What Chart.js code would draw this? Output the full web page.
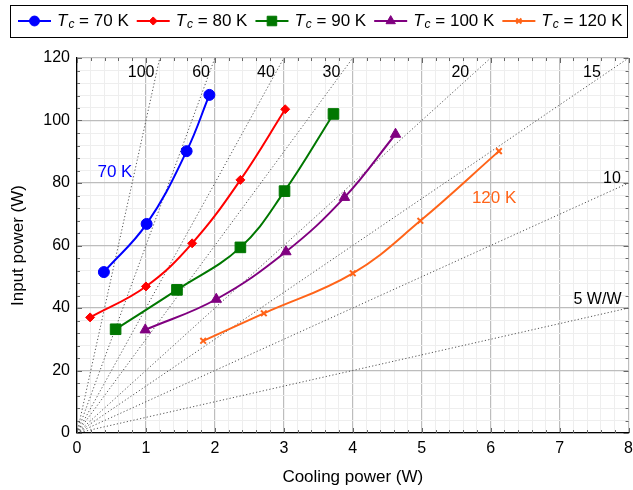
<!DOCTYPE html>
<html lang="en">
<head>
  <meta charset="UTF-8" />
  <title>Input power vs cooling power</title>
  <script src="https://cdn.jsdelivr.net/npm/chart.js"></script>
  <style>
    html, body { margin: 0; padding: 0; background: #fff; }
  </style>
</head>
<body>
  <canvas id="chart" width="633" height="490"></canvas>

  <script>
    // values (cooling power W, input power W)
    const tempNames = ['70 K', '80 K', '90 K', '100 K', '120 K'];
    const cool70 = [0.39, 1.01, 1.59, 1.92];
    const input70 = [51.5, 66.9, 90.2, 108.2];
    const cool80 = [0.19, 1.00, 1.67, 2.37, 3.02];
    const input80 = [37.0, 46.9, 60.7, 81.0, 103.6];
    const cool90 = [0.56, 1.45, 2.37, 3.01, 3.72];
    const input90 = [33.2, 45.8, 59.4, 77.4, 102.1];
    const cool100 = [0.99, 2.02, 3.03, 3.88, 4.62];
    const input100 = [33.0, 42.8, 58.0, 75.4, 95.6];
    const cool120 = [1.83, 2.71, 4.00, 4.98, 6.12];
    const input120 = [29.5, 38.3, 51.1, 67.9, 90.2];

    // constant specific power lines (W/W) and their labels
    const ratios = [5, 10, 15, 20, 30, 40, 60, 100];
    const ratioLabels = ['5 W/W', '10', '15', '20', '30', '40', '60', '100'];

    const xMax = 8, yMax = 120;

    const colors = ['#0000ff', '#ff0000', '#007700', '#800080', '#ff6419'];
    const markers = [
      { pointStyle: 'circle', radius: 5.5, borderWidth: 1 },
      { pointStyle: 'rectRot', radius: 4.5, borderWidth: 1 },
      { pointStyle: 'rect', radius: 7.5, borderWidth: 1 },
      { pointStyle: 'triangle', radius: 6, borderWidth: 1 },
      { pointStyle: 'crossRot', radius: 4, borderWidth: 2 }
    ];

    const coolSeries = [cool70, cool80, cool90, cool100, cool120];
    const inputSeries = [input70, input80, input90, input100, input120];

    const pairs = (xs, ys) => xs.map((x, i) => ({ x: x, y: ys[i] }));

    const curveSets = tempNames.map((name, i) => ({
      label: 'Tc = ' + name,
      data: pairs(coolSeries[i], inputSeries[i]),
      borderColor: colors[i],
      backgroundColor: colors[i],
      borderWidth: 2,
      tension: 0.4,
      pointStyle: markers[i].pointStyle,
      pointRadius: markers[i].radius,
      pointBorderWidth: markers[i].borderWidth,
      pointHoverRadius: markers[i].radius
    }));

    const ratioSets = ratios.map(r => {
      const xe = Math.min(xMax, yMax / r);
      return {
        label: r + ' W/W',
        data: [{ x: 0, y: 0 }, { x: xe, y: xe * r }],
        borderColor: '#555',
        borderWidth: 1,
        borderDash: [1.2, 2.2],
        pointRadius: 0,
        tension: 0
      };
    });

    // where the text labels sit, in data units
    const ratioLabelPos = [[7.55, 42.6], [7.76, 81.5], [7.47, 115.2], [5.56, 115.2],
                           [3.69, 115.2], [2.74, 115.2], [1.80, 115.2], [0.93, 115.2]];
    const curveLabelPos = { 0: [0.55, 83.5], 4: [6.05, 75] };

    const isMultiple = (v, step) => Math.abs(v / step - Math.round(v / step)) < 1e-6;

    const font = 'Liberation Sans, Arial, sans-serif';

    const innerTicks = {
      id: 'innerTicks',
      beforeDatasetsDraw(chart) {
        const { ctx, chartArea: a, scales } = chart;
        ctx.save();
        ctx.strokeStyle = '#666';
        ctx.lineWidth = 1;
        ctx.beginPath();
        for (let v = 0; v <= xMax + 1e-9; v += 0.2) {
          const px = Math.round(scales.x.getPixelForValue(v)) + 0.5;
          const len = isMultiple(v, 1) ? 5 : 3;
          ctx.moveTo(px, a.bottom); ctx.lineTo(px, a.bottom - len);
          ctx.moveTo(px, a.top); ctx.lineTo(px, a.top + len);
        }
        for (let v = 0; v <= yMax + 1e-9; v += 4) {
          const py = Math.round(scales.y.getPixelForValue(v)) + 0.5;
          const len = isMultiple(v, 20) ? 5 : 3;
          ctx.moveTo(a.left, py); ctx.lineTo(a.left + len, py);
          ctx.moveTo(a.right, py); ctx.lineTo(a.right - len, py);
        }
        ctx.stroke();
        ctx.restore();
      }
    };

    const textLabels = {
      id: 'textLabels',
      afterDatasetsDraw(chart) {
        const { ctx, scales } = chart;
        ctx.save();
        ctx.textBaseline = 'middle';
        ctx.fillStyle = '#000';
        ctx.font = '16px ' + font;
        ratioLabels.forEach((t, i) => {
          const p = ratioLabelPos[i];
          ctx.textAlign = 'center';
          ctx.fillText(t, scales.x.getPixelForValue(p[0]), scales.y.getPixelForValue(p[1]));
        });
        ctx.font = '17px ' + font;
        Object.keys(curveLabelPos).forEach(k => {
          const p = curveLabelPos[k];
          ctx.fillStyle = colors[k];
          ctx.textAlign = 'center';
          ctx.fillText(tempNames[k], scales.x.getPixelForValue(p[0]), scales.y.getPixelForValue(p[1]));
        });
        ctx.restore();
      }
    };

    const topLegend = {
      id: 'topLegend',
      afterDraw(chart) {
        const ctx = chart.ctx;
        ctx.save();
        ctx.strokeStyle = '#000';
        ctx.lineWidth = 1;
        ctx.strokeRect(10.5, 5.5, 617, 32);
        const cy = 21;
        let x = 18;
        tempNames.forEach((name, i) => {
          ctx.strokeStyle = colors[i];
          ctx.fillStyle = colors[i];
          ctx.lineWidth = 2;
          ctx.beginPath();
          ctx.moveTo(x, cy); ctx.lineTo(x + 33, cy);
          ctx.stroke();
          ctx.lineWidth = markers[i].borderWidth;
          Chart.helpers.drawPoint(ctx, {
            pointStyle: markers[i].pointStyle,
            radius: markers[i].radius * 0.9,
            rotation: 0,
            borderWidth: markers[i].borderWidth
          }, x + 16.5, cy);
          x += 39;
          ctx.fillStyle = '#000';
          ctx.textBaseline = 'middle';
          ctx.textAlign = 'left';
          ctx.font = 'italic 17px ' + font;
          ctx.fillText('T', x, cy);
          x += ctx.measureText('T').width;
          ctx.font = 'italic 12px ' + font;
          ctx.fillText('c', x + 1, cy + 4);
          x += ctx.measureText('c').width + 1;
          ctx.font = '17px ' + font;
          const rest = ' = ' + name;
          ctx.fillText(rest, x, cy);
          x += ctx.measureText(rest).width + 8;
        });
        ctx.restore();
      }
    };

    const gridColor = step => c => (c.tick && isMultiple(c.tick.value, step)) ? '#bdbdbd' : '#eeeeee';

    new Chart(document.getElementById('chart'), {
      type: 'line',
      data: { datasets: curveSets.concat(ratioSets) },
      options: {
        responsive: false,
        animation: false,
        layout: { autoPadding: false, padding: { top: 58, right: 0, left: 0, bottom: 0 } },
        plugins: {
          legend: { display: false },
          tooltip: { enabled: false }
        },
        scales: {
          x: {
            type: 'linear',
            min: 0,
            max: xMax,
            afterFit(scale) { scale.height = 57; },
            border: { display: true, color: '#000', width: 1.3 },
            grid: {
              color: gridColor(1),
              lineWidth: c => (c.tick && isMultiple(c.tick.value, 1)) ? 1.2 : 1,
              drawTicks: true,
              tickLength: 6,
              tickColor: 'rgba(0,0,0,0)'
            },
            ticks: {
              stepSize: 0.2,
              autoSkip: false,
              maxRotation: 0,
              padding: 0,
              color: '#000',
              font: { family: font, size: 16 },
              callback: v => isMultiple(v, 1) ? Math.round(v) : ''
            },
            title: {
              display: true,
              text: 'Cooling power (W)',
              color: '#000',
              font: { family: font, size: 17 },
              padding: { top: 4, bottom: 2 }
            }
          },
          y: {
            type: 'linear',
            min: 0,
            max: yMax,
            afterFit(scale) { scale.width = 77; },
            border: { display: true, color: '#000', width: 1.3 },
            grid: { color: gridColor(20), lineWidth: c => (c.tick && isMultiple(c.tick.value, 20)) ? 1.2 : 1, drawTicks: false },
            ticks: {
              stepSize: 4,
              autoSkip: false,
              padding: 7,
              color: '#000',
              font: { family: font, size: 16 },
              callback: v => isMultiple(v, 20) ? Math.round(v) : ''
            },
            title: {
              display: true,
              text: 'Input power (W)',
              color: '#000',
              font: { family: font, size: 17 },
              padding: { top: 8, bottom: 4 }
            }
          }
        }
      },
      plugins: [innerTicks, textLabels, topLegend]
    });
  </script>
</body>
</html>
